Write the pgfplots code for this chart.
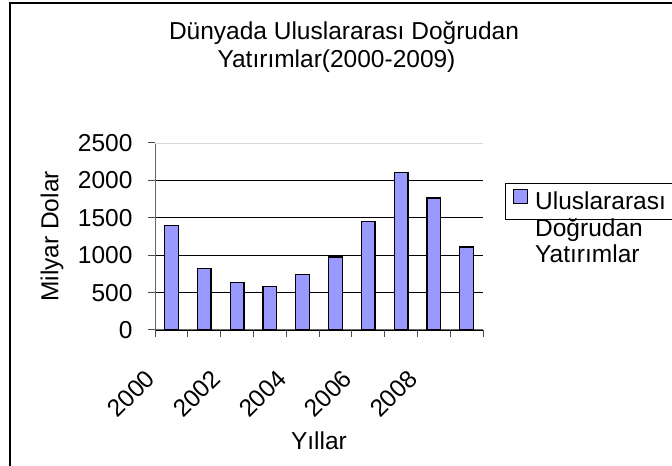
\documentclass[border=0pt]{standalone}
\usepackage{pgfplots}
\pgfplotsset{compat=1.18}
\usepackage{fontspec}
\setmainfont{Liberation Sans}
\newcommand\cf{\fontsize{24.5bp}{26.5bp}\selectfont}
\definecolor{barblue}{RGB}{153,153,255}
\begin{document}
\begin{tikzpicture}[x=1bp,y=1bp]
\useasboundingbox (0,0) rectangle (672,466);
\fill[white] (0,0) rectangle (672,466);
\draw[line width=2.2bp] (9.7,-20) -- (9.7,462.8) -- (700,462.8);
\node[anchor=base, font=\cf, inner sep=0pt] at (344,426) {Dünyada Uluslararası Doğrudan};
\node[anchor=base, font=\cf, inner sep=0pt] at (336.5,398) {Yatırımlar(2000-2009)};
\begin{axis}[
  at={(155bp,136bp)}, anchor=south west,
  scale only axis, width=328bp, height=187bp,
  xmin=-0.5, xmax=9.5, ymin=0, ymax=2500,
  ytick={0,500,1000,1500,2000},
  yticklabels={0,500,1000,1500,2000},
  extra y ticks={2500}, extra y tick labels={2500},
  extra y tick style={grid style={black!15, line width=0.8bp}},
  ymajorgrids, grid style={black, line width=0.8bp},
  xtick={-0.5,0.5,1.5,2.5,3.5,4.5,5.5,6.5,7.5,8.5,9.5},
  xticklabels={},
  extra x ticks={0,2,4,6,8},
  extra x tick labels={2000,2002,2004,2006,2008},
  extra x tick style={major tick length=0pt, tick label style={inner sep=0pt, xshift=-27bp, yshift=-38bp, rotate=45, anchor=north east}},
  axis x line*=bottom, axis y line*=left,
  axis line style={black!60, line width=1bp},
  tick align=outside, major tick length=7bp,
  tick style={black!70, line width=1bp},
  tick label style={font=\cf},
  /pgf/number format/assume math mode=true,
  yticklabel style={xshift=-12bp},
  ylabel={Milyar Dolar}, xlabel={Yıllar},
  label style={font=\cf},
  ylabel style={at={(axis description cs:-0.314,0.5)}, anchor=center},
  xlabel style={at={(axis description cs:0.5,-0.594)}, anchor=center},
  ybar, bar width=13.7bp,
  legend style={at={(1.067,0.786)}, anchor=north west, draw=black, line width=0.8bp,
    font=\cf, cells={align=left, text width=150bp}, inner xsep=8bp, inner ysep=6bp, column sep=5bp},
  legend image code/.code={\draw[fill=barblue, draw=black, line width=0.8bp] (0bp,-2bp) rectangle (14bp,12bp);},
]
\addplot[ybar, fill=barblue, draw=black, line width=1.3bp] coordinates {
(0,1394) (1,820) (2,632) (3,584) (4,739) (5,976) (6,1448) (7,2108) (8,1765) (9,1110)};
\addlegendentry{Uluslararası\\Doğrudan\\Yatırımlar}
\end{axis}
\end{tikzpicture}
\end{document}
